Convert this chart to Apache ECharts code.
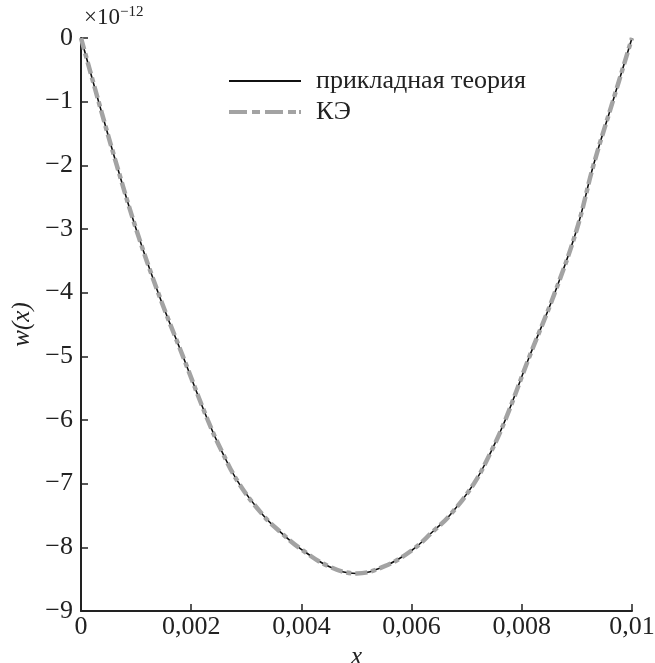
<!DOCTYPE html>
<html>
<head>
<meta charset="utf-8">
<script src="https://cdn.jsdelivr.net/npm/echarts@6/dist/echarts.min.js"></script>
<style>
html,body{margin:0;padding:0;background:#fff;}
#chart{width:655px;height:663px;}
</style>
</head>
<body>
<div id="chart"></div>
<script>
// x positions (m) and deflection w(x) in units of 1e-12
const xTheory = [0, 0.00032, 0.00065, 0.0010, 0.0014, 0.00185, 0.0023, 0.00256, 0.00287, 0.00331, 0.00362, 0.00395, 0.0045, 0.0050, 0.0055, 0.0060, 0.0064, 0.00669, 0.00713, 0.00744, 0.0077, 0.00814, 0.0086, 0.0090, 0.0093, 0.00965, 0.0100];
const wTheory = [0, -1, -2, -3, -4, -5, -6, -6.5, -7, -7.5, -7.76, -8.0, -8.3, -8.41, -8.3, -8.05, -7.74, -7.5, -7, -6.5, -6, -5, -4, -3, -2, -1, 0];
const xFE = xTheory;
const wFE = wTheory;
const seriesNames = ['прикладная теория', 'КЭ'];
const xTicks = [0, 0.002, 0.004, 0.006, 0.008, 0.01];
const yTicks = [-9, -8, -7, -6, -5, -4, -3, -2, -1, 0];

const font = '"Liberation Serif", "Times New Roman", serif';
const chart = echarts.init(document.getElementById('chart'));
const zip = (a, b) => a.map((v, i) => [v, b[i]]);

chart.setOption({
  animation: false,
  backgroundColor: '#fff',
  grid: {left: 81, right: 23, top: 38, bottom: 52, containLabel: false, outerBoundsMode: 'none'},
  xAxis: {
    type: 'value', min: xTicks[0], max: xTicks[xTicks.length - 1], interval: 0.002,
    axisLine: {show: true, onZero: false, lineStyle: {color: '#222', width: 2}},
    axisTick: {show: true, inside: true, length: 7, lineStyle: {color: '#222', width: 1.5}},
    splitLine: {show: false},
    axisLabel: {
      fontFamily: font, fontSize: 26, color: '#222', margin: 3,
      formatter: v => String(+v.toFixed(4)).replace('.', ',')
    },
    name: 'x', nameLocation: 'middle', nameGap: 23,
    nameTextStyle: {fontFamily: font, fontSize: 25, fontStyle: 'italic', color: '#222'}
  },
  yAxis: {
    type: 'value', min: yTicks[0], max: yTicks[yTicks.length - 1], interval: 1,
    axisLine: {show: true, onZero: false, lineStyle: {color: '#222', width: 2}},
    axisTick: {show: true, inside: true, length: 7, lineStyle: {color: '#222', width: 1.5}},
    splitLine: {show: false},
    axisLabel: {
      fontFamily: font, fontSize: 26, color: '#222', margin: 8,
      formatter: v => v < 0 ? '\u2212' + (-v) : String(v)
    },
    name: 'w(x)', nameLocation: 'middle', nameGap: 44, nameRotate: 90,
    nameTextStyle: {fontFamily: font, fontSize: 25, fontStyle: 'italic', color: '#222'}
  },
  legend: {
    orient: 'vertical', left: 224, top: 63, itemWidth: 72, itemHeight: 14, itemGap: 5,
    textStyle: {fontFamily: font, fontSize: 26, color: '#222', padding: [0, 0, 0, 10]},
    data: [
      {name: seriesNames[0], icon: 'path://M0,6 L72,6 L72,8 L0,8 Z', itemStyle: {color: '#111'}},
      {name: seriesNames[1],
       icon: 'path://M0,5 L18,5 L18,9 L0,9 Z M23,5 L31,5 L31,9 L23,9 Z M36,5 L54,5 L54,9 L36,9 Z M59,5 L67,5 L67,9 L59,9 Z M70,5 L72,5 L72,9 L70,9 Z M0,0 L0.01,0 L0.01,14 L0,14 Z',
       itemStyle: {color: '#a3a3a3'}}
    ]
  },
  graphic: [{
    type: 'text', left: 84, top: 5,
    style: {
      text: '{a|\u00d710}{b|\u221212}',
      rich: {
        a: {fontFamily: font, fontSize: 23, fill: '#222'},
        b: {fontFamily: font, fontSize: 15, fill: '#222', verticalAlign: 'top', padding: [0, 0, 11, 0]}
      }
    }
  }],
  series: [
    {
      name: seriesNames[0], type: 'line', smooth: 0.4, showSymbol: false, symbol: 'none',
      data: zip(xTheory, wTheory), z: 2,
      lineStyle: {color: '#111', width: 1.6},
      itemStyle: {color: '#111'}
    },
    {
      name: seriesNames[1], type: 'line', smooth: 0.4, showSymbol: false, symbol: 'none',
      data: zip(xFE, wFE), z: 3,
      lineStyle: {color: '#a3a3a3', width: 4.5, type: [12, 4, 5, 4]},
      itemStyle: {color: '#a3a3a3'}
    }
  ]
});
</script>
</body>
</html>
